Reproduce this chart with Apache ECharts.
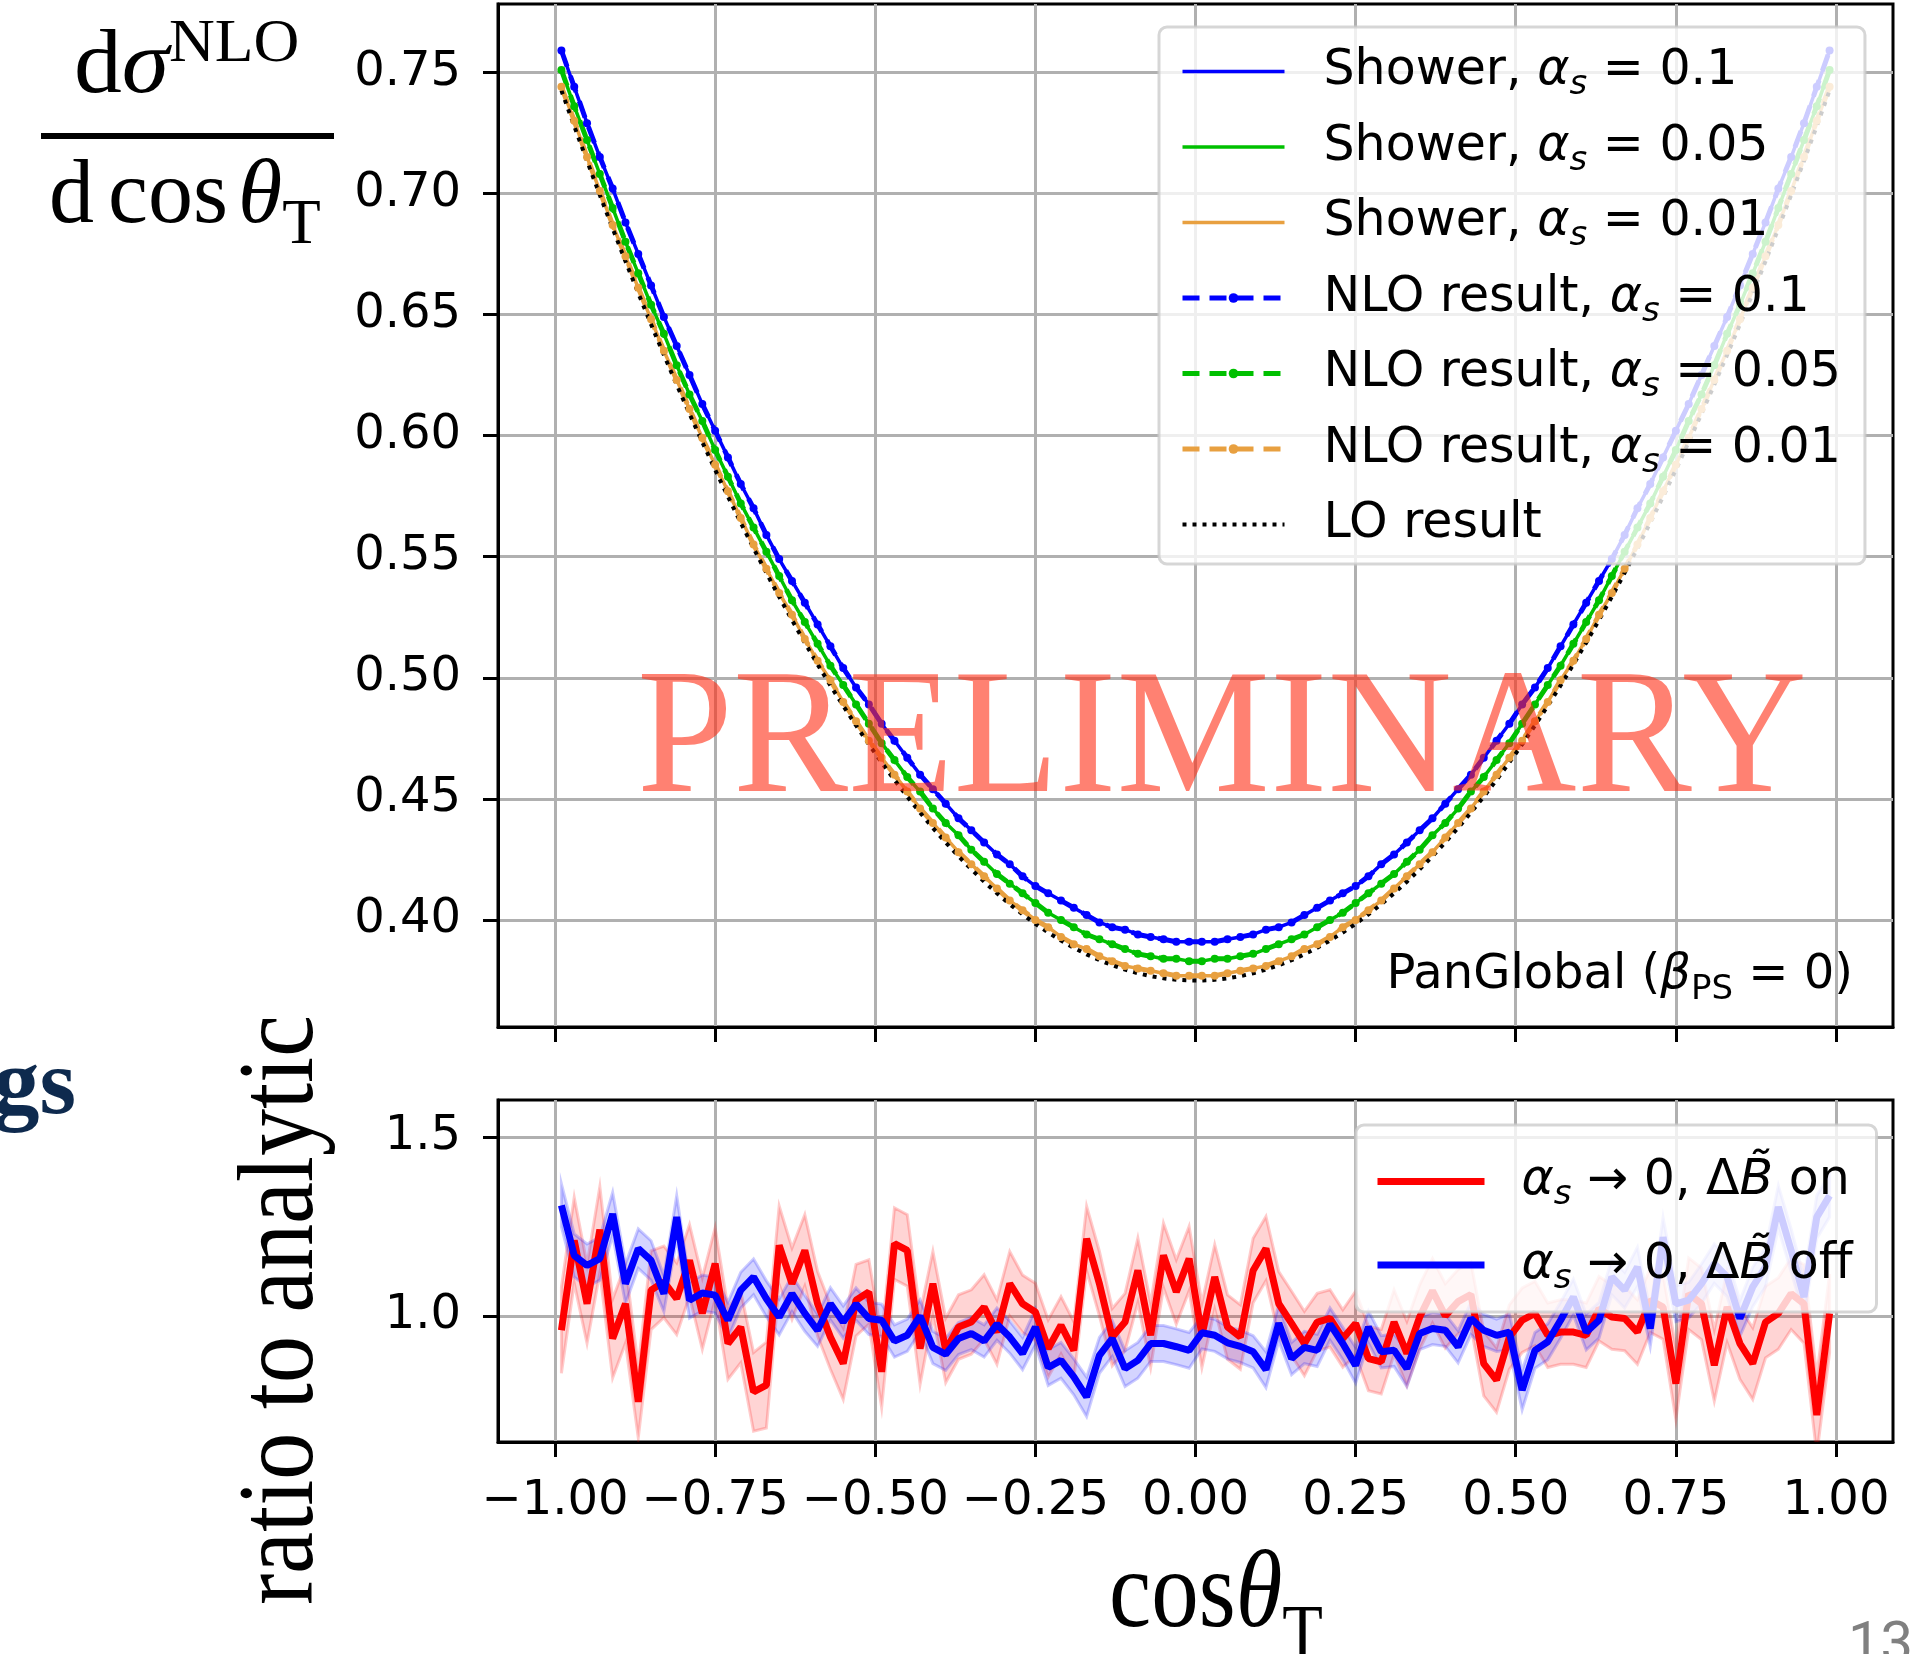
<!DOCTYPE html>
<html>
<head>
<meta charset="utf-8">
<script src="https://cdn.jsdelivr.net/npm/echarts@6/dist/echarts.min.js"></script>
<style>
  html, body { margin: 0; padding: 0; background: #fff; }
  #main { width: 1927px; height: 1654px; }
</style>
</head>
<body>
<div id="main"></div>
<script>
// bin centres of cos(theta_T), 100 bins of width 0.02
var cosBins = [
  -0.99,-0.97,-0.95,-0.93,-0.91,-0.89,-0.87,-0.85,-0.83,-0.81,
  -0.79,-0.77,-0.75,-0.73,-0.71,-0.69,-0.67,-0.65,-0.63,-0.61,
  -0.59,-0.57,-0.55,-0.53,-0.51,-0.49,-0.47,-0.45,-0.43,-0.41,
  -0.39,-0.37,-0.35,-0.33,-0.31,-0.29,-0.27,-0.25,-0.23,-0.21,
  -0.19,-0.17,-0.15,-0.13,-0.11,-0.09,-0.07,-0.05,-0.03,-0.01,
  0.01,0.03,0.05,0.07,0.09,0.11,0.13,0.15,0.17,0.19,
  0.21,0.23,0.25,0.27,0.29,0.31,0.33,0.35,0.37,0.39,
  0.41,0.43,0.45,0.47,0.49,0.51,0.53,0.55,0.57,0.59,
  0.61,0.63,0.65,0.67,0.69,0.71,0.73,0.75,0.77,0.79,
  0.81,0.83,0.85,0.87,0.89,0.91,0.93,0.95,0.97,0.99
];

// top panel: NLO result curves (shower curves lie on top of them at this resolution)
var nloA01 = [
  0.759,0.744,0.729,0.715,0.702,0.688,0.675,0.662,0.649,0.637,0.625,0.613,0.602,0.591,0.580,0.570,0.559,0.549,0.540,0.531,
  0.522,0.513,0.504,0.496,0.489,0.481,0.474,0.467,0.460,0.454,0.448,0.442,0.437,0.432,0.427,0.423,0.418,0.414,0.411,0.408,
  0.405,0.402,0.399,0.397,0.396,0.394,0.393,0.392,0.391,0.391,0.391,0.391,0.392,0.393,0.394,0.396,0.397,0.399,0.402,0.405,
  0.408,0.411,0.414,0.418,0.423,0.427,0.432,0.437,0.442,0.448,0.454,0.460,0.467,0.474,0.481,0.489,0.496,0.504,0.513,0.522,
  0.531,0.540,0.549,0.559,0.570,0.580,0.591,0.602,0.613,0.625,0.637,0.649,0.662,0.675,0.688,0.702,0.715,0.729,0.744,0.759
];
var nloA005 = [
  0.751,0.736,0.722,0.708,0.694,0.680,0.667,0.654,0.642,0.629,0.617,0.606,0.594,0.583,0.572,0.562,0.552,0.542,0.532,0.523,
  0.514,0.505,0.497,0.489,0.481,0.473,0.466,0.459,0.453,0.446,0.440,0.435,0.429,0.424,0.419,0.415,0.411,0.407,0.403,0.400,
  0.397,0.394,0.392,0.390,0.388,0.386,0.385,0.384,0.384,0.383,0.383,0.384,0.384,0.385,0.386,0.388,0.390,0.392,0.394,0.397,
  0.400,0.403,0.407,0.411,0.415,0.419,0.424,0.429,0.435,0.440,0.446,0.453,0.459,0.466,0.473,0.481,0.489,0.497,0.505,0.514,
  0.523,0.532,0.542,0.552,0.562,0.572,0.583,0.594,0.606,0.617,0.629,0.642,0.654,0.667,0.680,0.694,0.708,0.722,0.736,0.751
];
var nloA001 = [
  0.744,0.730,0.715,0.701,0.687,0.674,0.661,0.648,0.635,0.623,0.611,0.599,0.588,0.577,0.566,0.555,0.545,0.535,0.526,0.516,
  0.507,0.499,0.490,0.482,0.474,0.467,0.460,0.453,0.446,0.440,0.434,0.428,0.423,0.418,0.413,0.408,0.404,0.400,0.397,0.393,
  0.390,0.388,0.385,0.383,0.381,0.380,0.379,0.378,0.377,0.377,0.377,0.377,0.378,0.379,0.380,0.381,0.383,0.385,0.388,0.390,
  0.393,0.397,0.400,0.404,0.408,0.413,0.418,0.423,0.428,0.434,0.440,0.446,0.453,0.460,0.467,0.474,0.482,0.490,0.499,0.507,
  0.516,0.526,0.535,0.545,0.555,0.566,0.577,0.588,0.599,0.611,0.623,0.635,0.648,0.661,0.674,0.687,0.701,0.715,0.730,0.744
];
var loResult = [
  0.7425,0.7278,0.7134,0.6993,0.6855,0.6720,0.6588,0.6459,0.6333,0.6210,0.6090,0.5973,0.5859,0.5748,0.5640,0.5535,0.5433,0.5334,0.5238,0.5145,
  0.5055,0.4968,0.4884,0.4803,0.4725,0.4650,0.4578,0.4509,0.4443,0.4380,0.4320,0.4263,0.4209,0.4158,0.4110,0.4065,0.4023,0.3984,0.3948,0.3915,
  0.3885,0.3858,0.3834,0.3813,0.3795,0.3780,0.3768,0.3759,0.3753,0.3750,0.3750,0.3753,0.3759,0.3768,0.3780,0.3795,0.3813,0.3834,0.3858,0.3885,
  0.3915,0.3948,0.3984,0.4023,0.4065,0.4110,0.4158,0.4209,0.4263,0.4320,0.4380,0.4443,0.4509,0.4578,0.4650,0.4725,0.4803,0.4884,0.4968,0.5055,
  0.5145,0.5238,0.5334,0.5433,0.5535,0.5640,0.5748,0.5859,0.5973,0.6090,0.6210,0.6333,0.6459,0.6588,0.6720,0.6855,0.6993,0.7134,0.7278,0.7425
];

// bottom panel: ratio to analytic, with half-widths of the bands
var ratioOn = [
  0.960,1.211,1.034,1.241,0.937,1.034,0.760,1.072,1.095,1.048,1.155,1.007,1.146,0.923,0.969,0.788,0.807,1.197,1.090,1.183,
  1.034,0.941,0.867,1.044,1.067,0.844,1.202,1.183,0.909,1.090,0.904,0.969,0.983,1.025,0.955,1.090,1.034,1.011,0.909,0.974,
  0.904,1.216,1.090,0.941,0.983,1.127,0.946,1.169,1.067,1.160,0.946,1.109,0.969,0.941,1.127,1.188,1.034,0.979,0.923,0.983,
  0.993,0.937,0.979,0.881,0.872,0.983,0.895,0.997,1.070,1.000,1.040,1.060,0.867,0.821,0.941,0.988,1.007,0.946,0.955,0.955,
  0.946,1.020,0.997,0.993,0.955,1.044,1.025,0.811,1.062,1.034,0.862,1.025,0.923,0.867,0.983,1.007,1.062,1.034,0.723,1.007
];
var errOn = [
  0.12,0.12,0.11,0.12,0.11,0.11,0.10,0.11,0.10,0.10,0.10,0.10,0.10,0.10,0.10,0.11,0.12,0.11,0.10,0.10,
  0.09,0.09,0.10,0.10,0.09,0.10,0.10,0.10,0.10,0.09,0.09,0.09,0.09,0.09,0.09,0.09,0.08,0.08,0.08,0.08,
  0.08,0.09,0.09,0.08,0.08,0.09,0.09,0.09,0.09,0.09,0.09,0.09,0.09,0.09,0.09,0.09,0.09,0.09,0.09,0.08,
  0.08,0.08,0.09,0.09,0.09,0.09,0.09,0.09,0.09,0.09,0.09,0.09,0.09,0.09,0.09,0.09,0.09,0.09,0.09,0.09,
  0.09,0.09,0.09,0.09,0.09,0.09,0.09,0.10,0.10,0.10,0.10,0.10,0.10,0.10,0.10,0.10,0.10,0.11,0.11,0.11
];
var ratioOff = [
  1.309,1.169,1.141,1.160,1.285,1.090,1.188,1.155,1.062,1.276,1.044,1.064,1.058,0.988,1.072,1.109,1.048,0.997,1.062,1.007,
  0.960,1.034,0.983,1.033,0.993,0.988,0.930,0.946,1.000,0.912,0.893,0.937,0.951,0.930,0.977,0.941,0.895,0.969,0.856,0.876,
  0.830,0.774,0.890,0.937,0.853,0.876,0.923,0.923,0.914,0.904,0.953,0.946,0.925,0.915,0.900,0.850,0.980,0.881,0.912,0.904,
  0.977,0.923,0.862,0.969,0.900,0.904,0.853,0.951,0.965,0.960,0.914,0.993,0.960,0.946,0.955,0.793,0.904,0.928,0.988,1.053,
  0.955,0.988,1.109,1.072,1.137,0.965,1.220,1.034,1.044,1.090,1.146,1.109,0.993,1.081,1.137,1.304,1.183,1.053,1.276,1.336
];
var errOff = [
  0.060,0.060,0.060,0.060,0.060,0.055,0.055,0.055,0.050,0.060,0.050,0.050,0.050,0.050,0.050,0.050,0.050,0.050,0.050,0.050,
  0.045,0.045,0.045,0.045,0.045,0.045,0.045,0.045,0.045,0.045,0.045,0.045,0.045,0.045,0.045,0.045,0.045,0.050,0.050,0.050,
  0.050,0.055,0.050,0.050,0.050,0.050,0.050,0.050,0.050,0.050,0.045,0.045,0.045,0.045,0.045,0.050,0.050,0.045,0.045,0.045,
  0.045,0.045,0.050,0.045,0.045,0.045,0.050,0.045,0.045,0.045,0.045,0.045,0.045,0.045,0.050,0.055,0.050,0.050,0.050,0.050,
  0.050,0.050,0.050,0.050,0.055,0.050,0.055,0.050,0.050,0.055,0.055,0.055,0.050,0.055,0.055,0.060,0.060,0.055,0.060,0.060
];

var xTicks = [-1.0, -0.75, -0.5, -0.25, 0, 0.25, 0.5, 0.75, 1.0];
var yTicksTop = [0.40, 0.45, 0.50, 0.55, 0.60, 0.65, 0.70, 0.75];
var yTicksBottom = [1.0, 1.5];

var BLUE = '#0000ff', GREEN = '#00c000', ORANGE = '#e8a040', RED = '#ff0000';
var SANS = 'DejaVu Sans', SERIF = 'Liberation Serif';

function pairs(vals) {
  return cosBins.map(function (c, i) { return [c, vals[i]]; });
}

function bandSeries(vals, errs, fill, stroke) {
  return {
    type: 'custom', xAxisIndex: 1, yAxisIndex: 1, silent: true,
    data: [[0, 1]],
    renderItem: function (params, api) {
      var upper = [], lower = [];
      for (var i = 0; i < cosBins.length; i++) {
        upper.push(api.coord([cosBins[i], vals[i] + errs[i]]));
        lower.unshift(api.coord([cosBins[i], vals[i] - errs[i]]));
      }
      var cs = params.coordSys;
      return {
        type: 'polygon',
        shape: { points: upper.concat(lower) },
        style: { fill: fill, stroke: stroke, lineWidth: 3 },
        clipPath: { type: 'rect', shape: { x: cs.x, y: cs.y, width: cs.width, height: cs.height } }
      };
    }
  };
}

function xAxisCfg(grid, labels) {
  return {
    type: 'value', gridIndex: grid, min: -1.089, max: 1.089,
    axisLine: { show: true, onZero: false, lineStyle: { color: '#000', width: 3 } },
    axisTick: { show: true, customValues: xTicks, length: 15, lineStyle: { color: '#000', width: 3 } },
    axisLabel: {
      show: labels, customValues: xTicks, margin: 36, fontSize: 48, fontFamily: SANS, color: '#000',
      formatter: function (v) { return (v < 0 ? '\u2212' : '') + Math.abs(v).toFixed(2); }
    },
    splitLine: { show: true, lineStyle: { color: '#b0b0b0', width: 3 } }
  };
}

function yAxisCfg(grid, min, max, ticks, digits) {
  return {
    type: 'value', gridIndex: grid, min: min, max: max,
    axisLine: { show: true, onZero: false, lineStyle: { color: '#000', width: 3 } },
    axisTick: { show: true, customValues: ticks, length: 15, lineStyle: { color: '#000', width: 3 } },
    axisLabel: {
      customValues: ticks, margin: 37, fontSize: 48, fontFamily: SANS, color: '#000',
      formatter: function (v) { return v.toFixed(digits); }
    },
    splitLine: { show: true, lineStyle: { color: '#b0b0b0', width: 3 } }
  };
}

var legendRich = {
  f: { fontFamily: SANS, fontSize: 49, color: '#000', padding: [0, 0, 0, 34] },
  t: { fontFamily: SANS, fontSize: 49, color: '#000' },
  i: { fontFamily: SANS, fontSize: 49, fontStyle: 'italic', color: '#000' },
  fi: { fontFamily: SANS, fontSize: 49, fontStyle: 'italic', color: '#000', padding: [0, 0, 0, 32] },
  s: { fontFamily: SANS, fontSize: 34, fontStyle: 'italic', color: '#000', padding: [28, 0, 0, 0] }
};
var legendText = {
  'sh01': '{f|Shower, }{i|\u03b1}{s|s}{t| = 0.1}',
  'sh005': '{f|Shower, }{i|\u03b1}{s|s}{t| = 0.05}',
  'sh001': '{f|Shower, }{i|\u03b1}{s|s}{t| = 0.01}',
  'nlo01': '{f|NLO result, }{i|\u03b1}{s|s}{t| = 0.1}',
  'nlo005': '{f|NLO result, }{i|\u03b1}{s|s}{t| = 0.05}',
  'nlo001': '{f|NLO result, }{i|\u03b1}{s|s}{t| = 0.01}',
  'lo': '{f|LO result}',
  'on': '{fi|\u03b1}{s|s}{t| \u2192 0, \u0394}{i|B\u0303}{t| on}',
  'off': '{fi|\u03b1}{s|s}{t| \u2192 0, \u0394}{i|B\u0303}{t| off}'
};

function legendCfg(items, left, top, itemWidth, itemHeight, itemGap, padding) {
  return {
    data: items, orient: 'vertical', left: left, top: top,
    itemWidth: itemWidth, itemHeight: itemHeight, itemGap: itemGap, padding: padding,
    backgroundColor: 'rgba(255,255,255,0.8)', borderColor: 'rgba(204,204,204,0.8)',
    borderWidth: 3, borderRadius: 8, selectedMode: false,
    formatter: function (name) { return legendText[name]; },
    textStyle: { fontFamily: SANS, fontSize: 49, rich: legendRich }
  };
}

function curve(name, vals, color, kind) {
  var s = {
    name: name, type: 'line', xAxisIndex: 0, yAxisIndex: 0, data: pairs(vals),
    color: color, symbol: 'none', silent: true,
    lineStyle: { color: color, width: 3.5, type: 'solid' }
  };
  if (kind === 'nlo') {
    s.symbol = 'circle'; s.symbolSize = 8;
    s.itemStyle = { color: color };
    s.lineStyle = { color: color, width: 5, type: [17, 10] };
  } else if (kind === 'lo') {
    s.lineStyle = { color: '#000', width: 4, type: [4, 6] };
  }
  return s;
}

function legendItem(name, width, noSymbol) {
  var it = { name: name, lineStyle: { width: width } };
  if (noSymbol) it.itemStyle = { opacity: 0 };
  return it;
}

var option = {
  animation: false,
  backgroundColor: '#fff',
  textStyle: { fontFamily: SANS },
  grid: [
    { left: 498, top: 4, width: 1395, height: 1023, show: true, borderColor: '#000', borderWidth: 3, backgroundColor: 'transparent' },
    { left: 498, top: 1100, width: 1395, height: 342, show: true, borderColor: '#000', borderWidth: 3, backgroundColor: 'transparent' }
  ],
  xAxis: [xAxisCfg(0, false), xAxisCfg(1, true)],
  yAxis: [
    yAxisCfg(0, 0.3558, 0.7782, yTicksTop, 2),
    yAxisCfg(1, 0.648, 1.603, yTicksBottom, 1)
  ],
  legend: [
    legendCfg([
      legendItem('sh01', 3.5, true), legendItem('sh005', 3.5, true), legendItem('sh001', 3.5, true),
      legendItem('nlo01', 5, false), legendItem('nlo005', 5, false), legendItem('nlo001', 5, false),
      legendItem('lo', 4, true)
    ], 1159, 27, 102, 12, 20, [20, 24, 15, 21]),
    legendCfg([
      legendItem('on', 7, true), legendItem('off', 7, true)
    ], 1356, 1125, 107, 12, 28, [32, 24, 16, 18])
  ],
  series: [
    curve('sh01', nloA01, BLUE, 'shower'),
    curve('sh005', nloA005, GREEN, 'shower'),
    curve('sh001', nloA001, ORANGE, 'shower'),
    curve('nlo01', nloA01, BLUE, 'nlo'),
    curve('nlo005', nloA005, GREEN, 'nlo'),
    curve('nlo001', nloA001, ORANGE, 'nlo'),
    curve('lo', loResult, '#000', 'lo'),
    bandSeries(ratioOn, errOn, 'rgba(255,0,0,0.17)', 'rgba(255,0,0,0.2)'),
    {
      name: 'on', type: 'line', xAxisIndex: 1, yAxisIndex: 1, data: pairs(ratioOn),
      color: RED, symbol: 'none', silent: true, lineStyle: { color: RED, width: 7 }
    },
    bandSeries(ratioOff, errOff, 'rgba(0,0,255,0.17)', 'rgba(0,0,255,0.2)'),
    {
      name: 'off', type: 'line', xAxisIndex: 1, yAxisIndex: 1, data: pairs(ratioOff),
      color: BLUE, symbol: 'none', silent: true, lineStyle: { color: BLUE, width: 7 }
    }
  ],
  graphic: [
    // y label of top panel: d sigma^NLO / d cos theta_T
    { type: 'text', x: 74, y: 68, scaleX: 1.04, style: {
      text: '{r|d}{i|\u03c3}{u|NLO}', align: 'left', textAlign: 'left', verticalAlign: 'middle', textVerticalAlign: 'middle',
      rich: {
        r: { fontFamily: SERIF, fontSize: 92, fill: '#000', color: '#000' },
        i: { fontFamily: SERIF, fontSize: 92, fontStyle: 'italic', fill: '#000', color: '#000' },
        u: { fontFamily: SERIF, fontSize: 61, fill: '#000', color: '#000', padding: [0, 0, 46, 0] }
      } } },
    { type: 'rect', shape: { x: 41, y: 133, width: 293, height: 6 }, style: { fill: '#000' } },
    { type: 'text', x: 49, y: 198, style: {
      text: '{r|d}{c|cos}{i|\u03b8}{b|T}', align: 'left', textAlign: 'left', verticalAlign: 'middle', textVerticalAlign: 'middle',
      rich: {
        r: { fontFamily: SERIF, fontSize: 90, fill: '#000', color: '#000' },
        c: { fontFamily: SERIF, fontSize: 90, fill: '#000', color: '#000', padding: [0, 0, 0, 14] },
        i: { fontFamily: SERIF, fontSize: 90, fontStyle: 'italic', fill: '#000', color: '#000', padding: [0, 0, 0, 10] },
        b: { fontFamily: SERIF, fontSize: 63, fill: '#000', color: '#000', padding: [56, 0, 0, 0] }
      } } },
    // y label of ratio panel
    { type: 'text', x: 284, y: 1310, rotation: Math.PI / 2, scaleY: 1.15, style: {
      text: 'ratio to analytic', fontFamily: SERIF, fontSize: 94, fill: '#000',
      align: 'center', textAlign: 'center', verticalAlign: 'middle', textVerticalAlign: 'middle' } },
    // x label
    { type: 'text', x: 1109, y: 1597, scaleX: 0.95, scaleY: 1.1, style: {
      text: '{r|cos}{i|\u03b8}{b|T}', align: 'left', textAlign: 'left', verticalAlign: 'middle', textVerticalAlign: 'middle',
      rich: {
        r: { fontFamily: SERIF, fontSize: 100, fill: '#000', color: '#000' },
        i: { fontFamily: SERIF, fontSize: 100, fontStyle: 'italic', fill: '#000', color: '#000' },
        b: { fontFamily: SERIF, fontSize: 70, fill: '#000', color: '#000', padding: [72, 0, 0, 0] }
      } } },
    // slide remnants
    { type: 'text', x: 76, y: 1089, style: {
      text: 'gs', fontFamily: SERIF, fontSize: 94, fontWeight: 'bold', fill: '#0e2a4e',
      align: 'right', textAlign: 'right', verticalAlign: 'middle', textVerticalAlign: 'middle' } },
    { type: 'text', x: 1848, y: 1647, style: {
      text: '13', fontFamily: 'Roboto', fontSize: 58, fill: '#808080',
      align: 'left', textAlign: 'left', verticalAlign: 'middle', textVerticalAlign: 'middle' } },
    // annotation in the top panel
    { type: 'text', x: 1853, y: 976, z: 50, style: {
      text: '{t|PanGlobal (}{i|\u03b2}{p|PS}{t| = 0)}', align: 'right', textAlign: 'right', verticalAlign: 'middle', textVerticalAlign: 'middle',
      rich: {
        t: { fontFamily: SANS, fontSize: 48, fill: '#000', color: '#000' },
        i: { fontFamily: SANS, fontSize: 48, fontStyle: 'italic', fill: '#000', color: '#000' },
        p: { fontFamily: SANS, fontSize: 34, fill: '#000', color: '#000', padding: [28, 0, 0, 0] }
      } } },
    // watermark
    { type: 'text', x: 1222, y: 745, scaleX: 0.975, z: 100, style: {
      text: 'PRELIMINARY', fontFamily: SERIF, fontSize: 177, fill: 'rgba(255,45,20,0.6)',
      align: 'center', textAlign: 'center', verticalAlign: 'middle', textVerticalAlign: 'middle' } }
  ]
};

var chart = echarts.init(document.getElementById('main'));
chart.setOption(option);
</script>
</body>
</html>
